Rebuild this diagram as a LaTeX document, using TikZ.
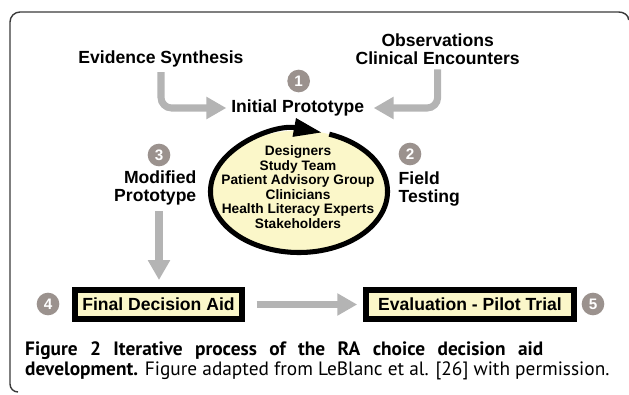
\documentclass[tikz,border=0pt]{standalone}
\usepackage{fontspec}
\setmainfont{Liberation Sans}
\newfontfamily\captionfont{PT Sans}
\usetikzlibrary{arrows.meta,positioning,calc}

\definecolor{stepgray}{HTML}{9B928E}
\definecolor{flowgray}{HTML}{B4B4B4}
\definecolor{paleyellow}{HTML}{FBF7C9}
\definecolor{framegray}{HTML}{3A3A3A}

\begin{document}
\begin{tikzpicture}[
    % --- Text styles ---
    phase/.style={font=\fontsize{15}{15.4}\selectfont\bfseries, inner sep=1pt},
    member/.style={font=\fontsize{11.7}{12.4}\selectfont\bfseries, align=center, inner sep=0pt},
    % --- Numbered step markers ---
    stepnum/.style={circle, fill=stepgray, text=white, minimum size=0.68cm,
                    inner sep=0pt, font=\fontsize{13}{13}\selectfont\bfseries},
    % --- Outcome boxes ---
    outcome/.style={draw=black, line width=5pt, fill=paleyellow, minimum height=0.87cm,
                    inner sep=0pt, font=\fontsize{15}{15}\selectfont\bfseries},
    % --- Connectors ---
    flow/.style={draw=flowgray, line width=6pt, -{Triangle[length=17pt,width=18pt]}},
    cycle arrow/.style={line width=4.3pt, -{Triangle[length=24pt,width=15pt]}},
    frame line/.style={framegray, line width=1.2pt},
    caption/.style={anchor=base west, inner sep=0pt, font=\captionfont\fontsize{16.5}{16.5}\selectfont},
]
\useasboundingbox (0,0) rectangle (18.87,11.82);

% --- Outer frame (open at the right and bottom) ---
\draw[frame line] (18.86,11.22) to[out=90, in=0] (18.56,11.46) -- (0.6,11.46)
  arc[start angle=90, end angle=180, radius=0.3] -- (0.3,0.3)
  arc[start angle=180, end angle=270, radius=0.24];

% ============================================================
% Inputs and the initial prototype
% ============================================================
\node[phase] (evidence) at (4.83, 10.05) {Evidence Synthesis};
\node[phase, align=center] (observations) at (13.13, 10.35) {Observations\\Clinical Encounters};

\node[stepnum] (num1) at (8.96, 9.39) {1};
\node[phase] (initial) at (8.93, 8.58) {Initial Prototype};

\draw[flow, rounded corners=9pt, shorten <=3pt, shorten >=3pt] (evidence.south) |- (initial.west);
\draw[flow, rounded corners=9pt, shorten <=3pt, shorten >=7pt] (observations.south) |- (initial.east);

% ============================================================
% Review cycle with the stakeholder groups
% ============================================================
\coordinate (hub) at (8.97, 6.075);
\fill[paleyellow] (hub) ellipse [x radius=2.655, y radius=1.83];
\draw[cycle arrow] ($(hub)+(70:2.655 and 1.83)$)
  arc[start angle=70, end angle=-285, x radius=2.655, y radius=1.83];

\node[member] (team) at (8.94, 6.21)
  {Designers\\Study Team\\Patient Advisory Group\\Clinicians\\Health Literacy Experts\\Stakeholders};

% --- Field testing (right) and modified prototype (left) ---
\node[stepnum] (num2) at (12.3, 7.2) {2};
\node[phase, align=left, anchor=west] (field) at (11.92, 6.15) {Field\\Testing};

\node[stepnum] (num3) at (4.77, 7.17) {3};
\node[phase, align=right, anchor=east] (modified) at (5.93, 6.18) {Modified\\Prototype};

% ============================================================
% Final aid and evaluation
% ============================================================
\node[outcome, minimum width=5.01cm] (final) at (4.755, 2.685) {Final Decision Aid};
\node[outcome, minimum width=6.24cm] (evaluation) at (14.1, 2.685) {Evaluation - Pilot Trial};
\node[stepnum] (num4) at (1.44, 2.7) {4};
\node[stepnum] (num5) at (17.79, 2.7) {5};

\draw[flow, shorten <=4pt, shorten >=6pt] (num3 |- modified.south) -- (num3 |- final.north);
\draw[flow, shorten <=10pt, shorten >=5pt] (final.east) -- (evaluation.west);

% --- Caption (first line set out to the full measure) ---
\node[caption] (caption1) at (0.75, 1.17)
  {\makebox[15.54cm][s]{\bfseries Figure 2 Iterative process of the RA choice decision aid}};
\node[caption] (caption2) at (0.75, 0.57)
  {\textbf{development.} Figure adapted from LeBlanc et al. [26] with permission.};

\end{tikzpicture}
\end{document}
